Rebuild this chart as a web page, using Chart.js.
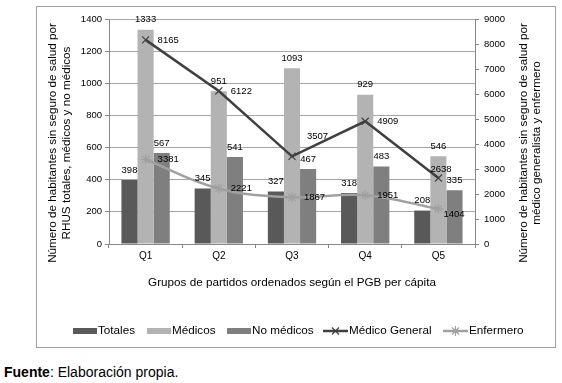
<!DOCTYPE html>
<html>
<head>
<meta charset="utf-8">
<script src="https://cdn.jsdelivr.net/npm/chart.js@4/dist/chart.umd.min.js"></script>
<style>
  body { margin: 0; background: #fff; width: 562px; height: 383px; position: relative; overflow: hidden;
         font-family: "Liberation Sans", Arial, sans-serif; }
  #box { position: absolute; left: 36px; top: 6px; width: 518px; height: 340px; border: 1px solid #a0a0a0; }
  #fuente { position: absolute; left: 4px; top: 364px; font-size: 14px; line-height: 16px; color: #000; white-space: nowrap; }
</style>
</head>
<body>
<div id="box"><canvas id="chart" width="518" height="340" style="width:518px;height:340px"></canvas></div>
<div id="fuente"><b>Fuente</b>: Elaboración propia.</div>

<script>
// Datos del gráfico
const categories = ["Q1", "Q2", "Q3", "Q4", "Q5"];
const totales = [398, 345, 327, 318, 208];
const medicos = [1333, 951, 1093, 929, 546];
const noMedicos = [567, 541, 467, 483, 335];
const medicoGeneral = [8165, 6122, 3507, 4909, 2638];
const enfermero = [3381, 2221, 1867, 1951, 1404];

const leftMax = 1400, leftStep = 200;
const rightMax = 9000, rightStep = 1000;

const FONT = '"Liberation Sans", Arial, sans-serif';

// Desplazamiento de algunas etiquetas de las líneas [dx, dy]
const LINE_LABEL_OFFSETS = {
  "Médico General": { 2: [15, -20], 4: [-8, -9] },
  "Enfermero": { 4: [5, 5] }
};

// Etiquetas de valores
const valueLabels = {
  id: "valueLabels",
  afterDatasetsDraw(chart) {
    const ctx = chart.ctx;
    ctx.save();
    ctx.font = "9.5px " + FONT;
    ctx.fillStyle = "#000";
    ctx.textBaseline = "middle";
    chart.data.datasets.forEach((ds, i) => {
      const meta = chart.getDatasetMeta(i);
      meta.data.forEach((el, j) => {
        const txt = String(ds.data[j]);
        if (ds.type === "line") {
          const offs = LINE_LABEL_OFFSETS[ds.label] || {};
          const off = offs[j] || [12, 0];
          ctx.textAlign = "left";
          ctx.fillText(txt, el.x + off[0], el.y + off[1]);
        } else {
          ctx.textAlign = "center";
          ctx.fillText(txt, el.x, el.y - 10);
        }
      });
    });
    ctx.restore();
  }
};

// Títulos de los ejes verticales (ambos girados -90°)
const axisTitles = {
  id: "axisTitles",
  afterDraw(chart) {
    const ctx = chart.ctx;
    const y = 136;
    const draw = (lines, xs) => {
      lines.forEach((t, k) => {
        ctx.save();
        ctx.translate(xs[k], y);
        ctx.rotate(-Math.PI / 2);
        ctx.fillText(t, 0, 0);
        ctx.restore();
      });
    };
    ctx.save();
    ctx.font = "11.7px " + FONT;
    ctx.fillStyle = "#000";
    ctx.textAlign = "center";
    ctx.textBaseline = "middle";
    draw(["Número de habitantes sin seguro de salud por", "RHUS totales, médicos y no médicos"], [16, 30]);
    draw(["Número de habitantes sin seguro de salud por", "médico generalista y enfermero"], [487, 500]);
    ctx.restore();
  }
};

// Leyenda dibujada a mano (línea + marcador para las series de línea)
function drawMarker(ctx, style, x, y, r) {
  ctx.beginPath();
  const d = r * Math.SQRT1_2;
  ctx.moveTo(x - d, y - d); ctx.lineTo(x + d, y + d);
  ctx.moveTo(x - d, y + d); ctx.lineTo(x + d, y - d);
  if (style === "star") {
    ctx.moveTo(x, y - r); ctx.lineTo(x, y + r);
    ctx.moveTo(x - r, y); ctx.lineTo(x + r, y);
  }
  ctx.stroke();
}

const customLegend = {
  id: "customLegend",
  afterDraw(chart) {
    const ctx = chart.ctx;
    const y = 324;
    const xs = [36, 110, 190, 286, 406];
    ctx.save();
    ctx.font = "11.7px " + FONT;
    ctx.textBaseline = "middle";
    ctx.textAlign = "left";
    chart.data.datasets.forEach((ds, i) => {
      const x = xs[i];
      let tx;
      if (ds.type === "line") {
        ctx.strokeStyle = ds.borderColor;
        ctx.lineWidth = 2.5;
        ctx.beginPath(); ctx.moveTo(x, y); ctx.lineTo(x + 25, y); ctx.stroke();
        ctx.lineWidth = 1.2;
        drawMarker(ctx, ds.pointStyle, x + 12.5, y, 5);
        tx = x + 26;
      } else {
        ctx.fillStyle = ds.backgroundColor;
        ctx.fillRect(x, y - 3, 24, 6);
        tx = x + 25;
      }
      ctx.fillStyle = "#000";
      ctx.fillText(ds.label, tx, y);
    });
    ctx.restore();
  }
};

const plainTick = v => String(v);

new Chart(document.getElementById("chart"), {
  type: "bar",
  data: {
    labels: categories,
    datasets: [
      { label: "Totales", data: totales, backgroundColor: "#595959", yAxisID: "y", order: 2,
        categoryPercentage: 0.66, barPercentage: 1 },
      { label: "Médicos", data: medicos, backgroundColor: "#b3b3b3", yAxisID: "y", order: 2,
        categoryPercentage: 0.66, barPercentage: 1 },
      { label: "No médicos", data: noMedicos, backgroundColor: "#7f7f7f", yAxisID: "y", order: 2,
        categoryPercentage: 0.66, barPercentage: 1 },
      { type: "line", label: "Médico General", data: medicoGeneral, yAxisID: "y1", order: 0,
        borderColor: "#404040", borderWidth: 2.5, tension: 0,
        pointStyle: "crossRot", pointRadius: 5, pointBorderColor: "#404040", pointBorderWidth: 1.2,
        pointBackgroundColor: "rgba(0,0,0,0)" },
      { type: "line", label: "Enfermero", data: enfermero, yAxisID: "y1", order: 0,
        borderColor: "#a0a0a0", borderWidth: 2.5, tension: 0.4,
        pointStyle: "star", pointRadius: 5, pointBorderColor: "#a0a0a0", pointBorderWidth: 1.2,
        pointBackgroundColor: "rgba(0,0,0,0)" }
    ]
  },
  options: {
    responsive: false,
    animation: false,
    layout: { padding: { top: 12, left: 0, right: 0, bottom: 0 } },
    plugins: {
      legend: { display: false },
      tooltip: { enabled: false }
    },
    scales: {
      x: {
        grid: { offset: true, drawOnChartArea: false, tickLength: 4, color: "#888" },
        border: { color: "#888" },
        ticks: { color: "#000", font: { family: FONT, size: 10 }, padding: 2 },
        title: { display: true, text: "Grupos de partidos ordenados según el PGB per cápita",
                 color: "#000", font: { family: FONT, size: 11.7 }, padding: { top: 0, bottom: 57 } },
        afterFit: s => { s.height = 103; }
      },
      y: {
        position: "left",
        min: 0, max: leftMax,
        ticks: { stepSize: leftStep, callback: plainTick, color: "#000", font: { family: FONT, size: 9.5 }, padding: 3 },
        grid: { color: "#a6a6a6", tickLength: 4, tickColor: "#888" },
        border: { color: "#888" },
        afterFit: s => { s.width = 72; }
      },
      y1: {
        position: "right",
        min: 0, max: rightMax,
        ticks: { stepSize: rightStep, callback: plainTick, color: "#000", font: { family: FONT, size: 9.5 }, padding: 5 },
        grid: { drawOnChartArea: false, tickLength: 4, color: "#888" },
        border: { color: "#888" },
        afterFit: s => { s.width = 80; }
      }
    }
  },
  plugins: [valueLabels, axisTitles, customLegend]
});
</script>
</body>
</html>
